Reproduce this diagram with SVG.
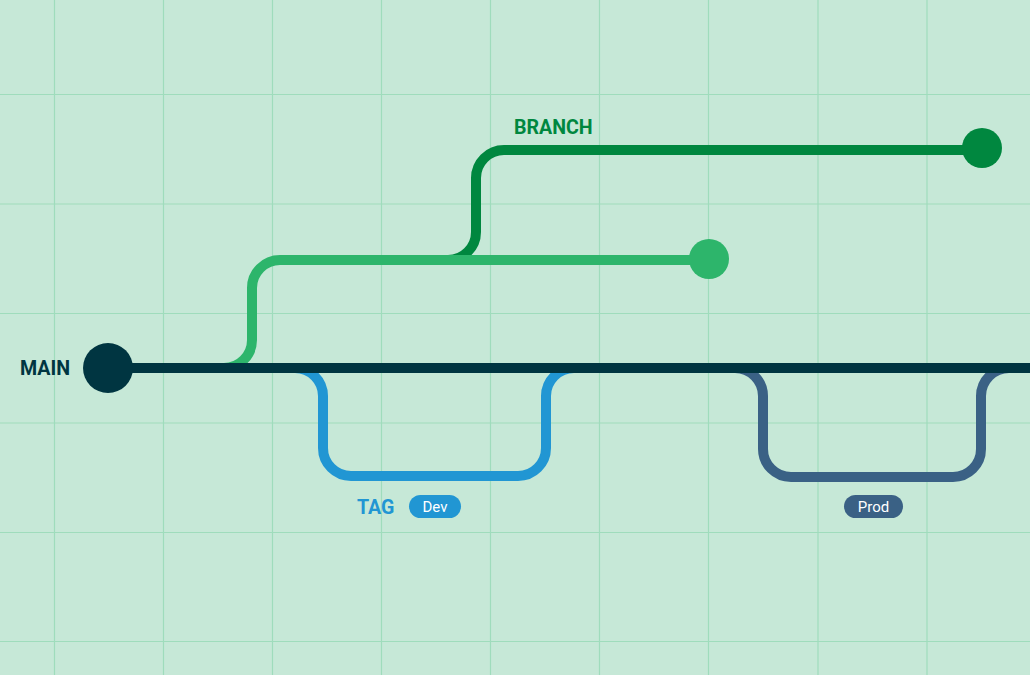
<svg xmlns="http://www.w3.org/2000/svg" width="1030" height="675" viewBox="0 0 1030 675">
<style>
.grid line{stroke:#9fdcbc;stroke-width:1.2}
.ln{fill:none;stroke-width:10;stroke-linecap:butt}
.lbl{font-family:Roboto,"Liberation Sans",sans-serif;font-weight:bold;font-size:19.6px}
.pill{font-family:Roboto,"Liberation Sans",sans-serif;font-size:15px;fill:#ffffff}
</style>
<rect width="1030" height="675" fill="#c6e8d7"/>
<g class="grid">
<line x1="54.5" y1="0" x2="54.5" y2="675"/>
<line x1="163.5" y1="0" x2="163.5" y2="675"/>
<line x1="272.5" y1="0" x2="272.5" y2="675"/>
<line x1="381.5" y1="0" x2="381.5" y2="675"/>
<line x1="490.5" y1="0" x2="490.5" y2="675"/>
<line x1="599.5" y1="0" x2="599.5" y2="675"/>
<line x1="708.5" y1="0" x2="708.5" y2="675"/>
<line x1="818" y1="0" x2="818" y2="675"/>
<line x1="927" y1="0" x2="927" y2="675"/>
<line x1="0" y1="94.5" x2="1030" y2="94.5"/>
<line x1="0" y1="204" x2="1030" y2="204"/>
<line x1="0" y1="313.5" x2="1030" y2="313.5"/>
<line x1="0" y1="423" x2="1030" y2="423"/>
<line x1="0" y1="532.5" x2="1030" y2="532.5"/>
<line x1="0" y1="641.5" x2="1030" y2="641.5"/>
</g>
<g id="connectors">
<path class="ln" stroke="#00873f" d="M425 260 H448 A28 28 0 0 0 476 232 V178 A28 28 0 0 1 504 150 H982"/>
<path class="ln" stroke="#2db56b" d="M200 368 H224 A28 28 0 0 0 252 340 V288 A28 28 0 0 1 280 260 H709"/>
<path class="ln" stroke="#2196d3" d="M272 368 H295 A28 28 0 0 1 323 396 V448 A28 28 0 0 0 351 476 H518 A28 28 0 0 0 546 448 V396 A28 28 0 0 1 574 368 H600"/>
<path class="ln" stroke="#3a6185" d="M710 368 H735 A28 28 0 0 1 763 396 V449 A28 28 0 0 0 791 477 H953 A28 28 0 0 0 981 449 V396 A28 28 0 0 1 1009 368 H1030"/>
<path class="ln" stroke="#003541" d="M108 368 H1030"/>
</g>
<g id="main">
<circle cx="108" cy="368" r="25" fill="#003541"/>
<text class="lbl" x="20" y="375" fill="#003541">MAIN</text>
</g>
<g id="branch">
<circle cx="982" cy="148" r="20" fill="#00873f"/>
<text class="lbl" x="514" y="133.5" fill="#00873f">BRANCH</text>
</g>
<g id="branch2">
<circle cx="709" cy="259" r="20" fill="#2db56b"/>
</g>
<g id="tag">
<text class="lbl" x="357" y="513.5" fill="#2196d3">TAG</text>
<rect x="409" y="495" width="52" height="23" rx="11.5" fill="#2196d3"/>
<text class="pill" x="435" y="512" text-anchor="middle">Dev</text>
</g>
<g id="prod">
<rect x="844" y="495" width="59" height="23" rx="11.5" fill="#3a6185"/>
<text class="pill" x="873.5" y="512" text-anchor="middle">Prod</text>
</g>
</svg>
